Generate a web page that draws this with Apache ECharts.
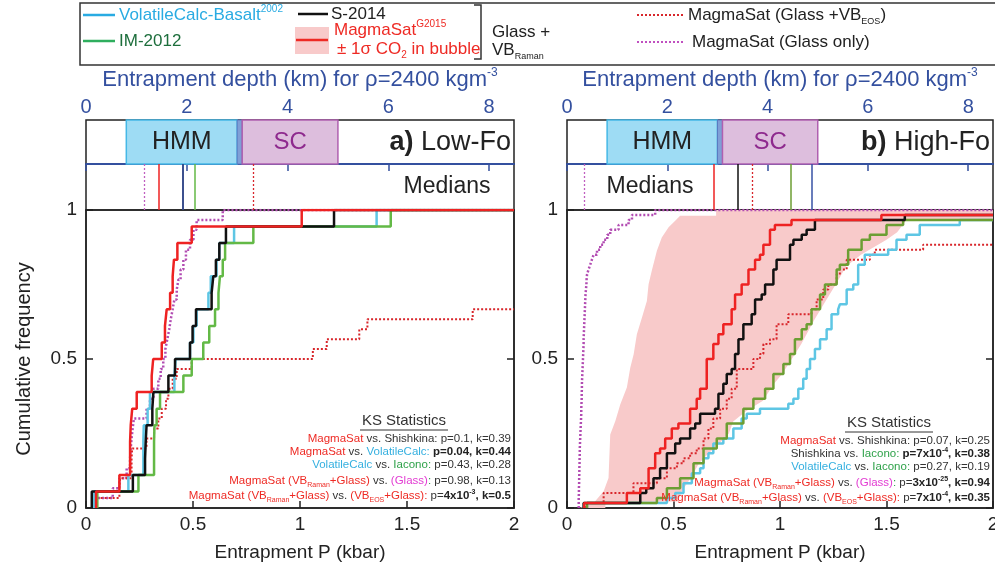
<!DOCTYPE html>
<html>
<head>
<meta charset="utf-8">
<title>Entrapment pressure CDFs</title>
<script src="https://cdn.jsdelivr.net/npm/echarts@6/dist/echarts.min.js"></script>
<style>
html, body { margin: 0; padding: 0; background: #fff; }
#main { width: 995px; height: 574px; }
</style>
</head>
<body>
<div id="main"></div>
<script>
var myChart = echarts.init(document.getElementById('main'));

var FONT = 'Liberation Sans, Arial, sans-serif';
var NAVY = '#34509f';
// pressure axis max (kbar) and the matching depth for rho = 2400 kg/m3
var P_MAX = 2;
var DEPTH_MAX = P_MAX * 1e8 / (2400 * 9.81) / 1000;

// ---- a) Low-Fo : sorted entrapment pressures (kbar) ----
var nLowFo = 18;      // glass + VB_Raman set
var nLowFoAll = 30;   // VB_EOS and glass-only sets (rest plot above 2 kbar)
var aVolatileCalc = [0.037, 0.198, 0.268, 0.268, 0.270, 0.288, 0.299, 0.413, 0.419, 0.486, 0.502, 0.517, 0.572, 0.583, 0.610, 0.623, 0.692, 1.358];
var aIacono = [0.053, 0.245, 0.318, 0.318, 0.320, 0.330, 0.346, 0.455, 0.494, 0.548, 0.576, 0.603, 0.619, 0.626, 0.639, 0.650, 0.782, 1.424];
var aShishkina = [0.027, 0.219, 0.276, 0.279, 0.283, 0.310, 0.315, 0.385, 0.416, 0.486, 0.498, 0.514, 0.587, 0.595, 0.607, 0.623, 0.654, 1.159];
var aMagmaSat = [0.047, 0.156, 0.206, 0.206, 0.209, 0.216, 0.237, 0.307, 0.314, 0.354, 0.369, 0.377, 0.393, 0.405, 0.411, 0.427, 0.494, 1.008];
var aEos = [0.040, 0.156, 0.159, 0.213, 0.213, 0.216, 0.283, 0.318, 0.338, 0.354, 0.374, 0.385, 0.405, 0.424, 0.494, 1.060, 1.125, 1.277, 1.315, 1.807];
var aGlass = [0.047, 0.125, 0.156, 0.190, 0.206, 0.209, 0.213, 0.218, 0.224, 0.283, 0.299, 0.315, 0.338, 0.349, 0.361, 0.371, 0.380, 0.389, 0.396, 0.405, 0.413, 0.424, 0.432, 0.442, 0.455, 0.467, 0.486, 0.502, 0.517, 0.639];

// ---- b) High-Fo ----
var nHighFo = 60;
var bVolatileCalc = [0.094, 0.469, 0.508, 0.547, 0.547, 0.586, 0.586, 0.625, 0.641, 0.641, 0.664, 0.687, 0.687, 0.734, 0.781, 0.781, 0.820, 0.820, 0.844, 0.906,
  1.039, 1.063, 1.086, 1.086, 1.109, 1.109, 1.125, 1.125, 1.141, 1.141, 1.164, 1.164, 1.188, 1.188, 1.219, 1.219, 1.242, 1.242, 1.242, 1.273,
  1.281, 1.313, 1.313, 1.313, 1.344, 1.367, 1.367, 1.367, 1.367, 1.398, 1.398, 1.508, 1.547, 1.547, 1.594, 1.656, 1.656, 1.844];
var bIacono = [0.094, 0.422, 0.469, 0.469, 0.531, 0.531, 0.594, 0.594, 0.594, 0.641, 0.641, 0.641, 0.703, 0.703, 0.750, 0.750, 0.750, 0.828, 0.828, 0.828,
  0.875, 0.875, 0.930, 0.930, 0.969, 0.969, 0.969, 1.016, 1.016, 1.047, 1.047, 1.070, 1.070, 1.070, 1.102, 1.102, 1.125, 1.148, 1.148, 1.148,
  1.188, 1.188, 1.188, 1.211, 1.211, 1.266, 1.266, 1.266, 1.281, 1.320, 1.320, 1.320, 1.383, 1.383, 1.422, 1.500, 1.500, 1.578];
var bShishkina = [0.078, 0.344, 0.344, 0.372, 0.406, 0.406, 0.437, 0.437, 0.469, 0.469, 0.469, 0.508, 0.508, 0.531, 0.578, 0.578, 0.602, 0.625, 0.625, 0.695,
  0.711, 0.711, 0.711, 0.734, 0.734, 0.750, 0.750, 0.773, 0.789, 0.789, 0.789, 0.805, 0.805, 0.805, 0.828, 0.828, 0.828, 0.867, 0.867, 0.883,
  0.883, 0.883, 0.914, 0.930, 0.930, 0.969, 0.969, 0.969, 0.984, 0.984, 1.047, 1.047, 1.047, 1.063, 1.102, 1.125, 1.164, 1.164, 1.586];
var bMagmaSat = [0.081, 0.281, 0.281, 0.344, 0.383, 0.383, 0.383, 0.383, 0.414, 0.414, 0.414, 0.437, 0.461, 0.461, 0.492, 0.492, 0.523, 0.578, 0.578, 0.578,
  0.609, 0.609, 0.625, 0.625, 0.656, 0.656, 0.656, 0.656, 0.656, 0.656, 0.687, 0.687, 0.687, 0.711, 0.711, 0.734, 0.734, 0.773, 0.773, 0.773,
  0.789, 0.789, 0.789, 0.820, 0.820, 0.852, 0.852, 0.852, 0.883, 0.883, 0.906, 0.922, 0.922, 0.953, 0.953, 0.953, 0.976, 1.054, 1.476];
var bEos = [0.086, 0.172, 0.172, 0.312, 0.312, 0.422, 0.469, 0.469, 0.516, 0.547, 0.578, 0.609, 0.641, 0.641, 0.664, 0.664, 0.687, 0.687, 0.719, 0.719,
  0.750, 0.750, 0.773, 0.773, 0.797, 0.797, 0.797, 0.797, 0.875, 0.875, 0.906, 0.922, 0.922, 0.953, 0.984, 0.984, 0.984, 1.039, 1.039, 1.148,
  1.172, 1.172, 1.203, 1.203, 1.227, 1.266, 1.266, 1.281, 1.313, 1.313, 1.422, 1.445, 1.672];
var bGlass = [0.055, 0.055, 0.056, 0.056, 0.057, 0.057, 0.058, 0.058, 0.059, 0.059, 0.060, 0.060, 0.061, 0.062, 0.063, 0.064, 0.065, 0.066, 0.067, 0.067,
  0.068, 0.069, 0.069, 0.070, 0.070, 0.071, 0.072, 0.073, 0.074, 0.075, 0.076, 0.077, 0.078, 0.078, 0.079, 0.080, 0.081, 0.082, 0.083, 0.084,
  0.085, 0.086, 0.087, 0.089, 0.091, 0.092, 0.094, 0.101, 0.109, 0.117, 0.125, 0.141, 0.156, 0.172, 0.189, 0.203, 0.242, 0.289, 0.305, 0.414];
// MagmaSat +/- 1 sigma CO2 in bubble envelope (kbar, cumulative frequency)
var bBandLoP = [0.06, 0.125, 0.172, 0.195, 0.203, 0.227, 0.25, 0.281, 0.297, 0.313, 0.328, 0.352, 0.375, 0.383, 0.398, 0.422, 0.445, 0.477, 0.508, 0.531, 0.70, 0.70, 2.0];
var bBandLoF = [0, 0.017, 0.056, 0.101, 0.247, 0.292, 0.347, 0.404, 0.471, 0.516, 0.583, 0.639, 0.695, 0.751, 0.796, 0.863, 0.908, 0.942, 0.964, 0.981, 0.981, 1.0, 1.0];
var bBandHiP = [0.05, 0.18, 0.18, 0.52, 0.54, 0.58, 0.62, 0.66, 0.71, 0.76, 0.78, 0.84, 0.92, 0.97, 1.01, 1.06, 1.10, 1.16, 1.21, 1.27, 1.31, 1.38, 1.44, 1.50, 1.55, 1.59, 2.0];
var bBandHiF = [0, 0, 0.02, 0.022, 0.057, 0.10, 0.15, 0.18, 0.213, 0.25, 0.29, 0.325, 0.36, 0.415, 0.45, 0.505, 0.55, 0.63, 0.69, 0.76, 0.81, 0.85, 0.875, 0.90, 0.925, 0.963, 0.963];

// medians (kbar) shown in the strip above each panel
var medianKeys = ['glass', 'magmasat', 'shishkina', 'volatilecalc', 'iacono', 'eos'];
var aMedians = [0.271, 0.336, 0.453, 0.453, 0.514, 0.78];
var bMedians = [0.08, 0.69, 0.80, 1.15, 1.05, 0.87];

// magma storage zones (km)
var zoneNames = ['HMM', '', 'SC'];
var zoneFrom = [0.8, 3.0, 3.1];
var zoneTo = [3.0, 3.1, 5.0];

var zoneStyle = [
    { color: '#9edcf4', borderColor: '#45b8e6', borderWidth: 1.5, text: '#222' },
    { color: '#7f9fd6', borderColor: '#5a78c0', borderWidth: 1, text: '#222' },
    { color: '#ddbedd', borderColor: '#b060b0', borderWidth: 1.5, text: '#8e2a8e' }
];
var curveStyle = {
    volatilecalc: { color: '#5ec6e4', width: 2.5, type: 'solid' },
    iacono: { color: '#63b946', width: 2.5, type: 'solid' },
    shishkina: { color: '#111111', width: 2.5, type: 'solid' },
    magmasat: { color: '#ee2222', width: 2.5, type: 'solid' },
    eos: { color: '#d8262b', width: 2, type: [2, 2] },
    glass: { color: '#b24cb2', width: 2.5, type: [2, 2] }
};
var medianStyle = {
    glass: { color: '#c060c0', width: 1.3, type: [2, 2] },
    magmasat: { color: '#ee2222', width: 1.5, type: 'solid' },
    shishkina: { color: '#111111', width: 1.5, type: 'solid' },
    volatilecalc: { color: '#3752a5', width: 1.5, type: 'solid' },
    iacono: { color: '#5cc03c', width: 1.5, type: 'solid' },
    eos: { color: '#d8262b', width: 1.3, type: [2, 2] }
};

// empirical CDF as step vertices
function cdfPoints(samples, n) {
    var pts = [[samples[0], 0]];
    for (var i = 0; i < samples.length; i++) {
        pts.push([samples[i], (i + 1) / n]);
    }
    pts.push([P_MAX, samples.length / n]);
    return pts;
}

var panels = [
    {
        left: 86, width: 428, label: 'a)', labelText: 'Low-Fo', labelX: 511, mediansX: 447,
        medians: aMedians, green: '#63b946', yName: 'Cumulative frequency',
        curves: [['glass', aGlass, nLowFoAll], ['eos', aEos, nLowFoAll], ['volatilecalc', aVolatileCalc, nLowFo],
            ['iacono', aIacono, nLowFo], ['shishkina', aShishkina, nLowFo], ['magmasat', aMagmaSat, nLowFo]]
    },
    {
        left: 567, width: 426, label: 'b)', labelText: 'High-Fo', labelX: 990, mediansX: 650,
        medians: bMedians, green: '#6c9e33', yName: '', band: true,
        curves: [['glass', bGlass, nHighFo], ['eos', bEos, nHighFo], ['volatilecalc', bVolatileCalc, nHighFo],
            ['iacono', bIacono, nHighFo], ['shishkina', bShishkina, nHighFo], ['magmasat', bMagmaSat, nHighFo]]
    }
];

var grids = [], xAxes = [], yAxes = [], series = [];

panels.forEach(function (pn, p) {
    var g = p * 3;
    var tops = [120, 164, 210], heights = [44, 46, 298];
    for (var i = 0; i < 3; i++) {
        grids.push({
            left: pn.left, width: pn.width, top: tops[i], height: heights[i],
            show: true, borderColor: '#222', borderWidth: 1.5, backgroundColor: 'transparent',
            containLabel: false, outerBoundsMode: 'none'
        });
    }
    // depth axis on top of the zone strip
    xAxes.push({
        gridIndex: g, type: 'value', position: 'top', min: 0, max: DEPTH_MAX, interval: 2,
        axisLine: { show: true, lineStyle: { color: NAVY, width: 2 } },
        axisTick: { show: true, inside: true, length: 7, lineStyle: { color: NAVY, width: 1.5 } },
        axisLabel: {
            color: NAVY, fontSize: 20, fontFamily: FONT, margin: 3, showMaxLabel: false,
            formatter: function (v) { return v % 2 === 0 ? String(v) : ''; }
        },
        splitLine: { show: false },
        name: 'Entrapment depth (km) for ρ=2400 kgm{s|-3}',
        nameLocation: 'middle', nameGap: 27,
        nameTextStyle: {
            color: NAVY, fontSize: 22, fontFamily: FONT, lineHeight: 26,
            rich: { s: { color: NAVY, fontSize: 12, fontFamily: FONT, verticalAlign: 'top', lineHeight: 14 } }
        }
    });
    xAxes.push({ gridIndex: g + 1, type: 'value', min: 0, max: P_MAX, show: false });
    xAxes.push({
        gridIndex: g + 2, type: 'value', min: 0, max: P_MAX, interval: 0.5,
        axisLine: { show: true, onZero: false, lineStyle: { color: '#222', width: 1.5 } },
        axisTick: { show: true, inside: true, length: 7, lineStyle: { color: '#222', width: 1.5 } },
        axisLabel: { color: '#222', fontSize: 19, fontFamily: FONT, margin: 7 },
        splitLine: { show: false },
        name: 'Entrapment P (kbar)', nameLocation: 'middle', nameGap: 35,
        nameTextStyle: { color: '#222', fontSize: 19, fontFamily: FONT }
    });

    yAxes.push({ gridIndex: g, type: 'value', min: 0, max: 1, show: false });
    yAxes.push({ gridIndex: g + 1, type: 'value', min: 0, max: 1, show: false });
    yAxes.push({
        gridIndex: g + 2, type: 'value', position: 'left', min: 0, max: 1, interval: 0.5,
        axisLine: { show: true, onZero: false, lineStyle: { color: '#222', width: 1.5 } },
        axisTick: { show: true, inside: true, length: 7, lineStyle: { color: '#222', width: 1.5 } },
        axisLabel: { color: '#222', fontSize: 19, fontFamily: FONT, margin: 9 },
        splitLine: { show: false },
        name: pn.yName, nameLocation: 'middle', nameGap: 52,
        nameTextStyle: { color: '#222', fontSize: 20, fontFamily: FONT }
    });
    yAxes.push({
        gridIndex: g + 2, type: 'value', position: 'right', min: 0, max: 1, interval: 0.5,
        axisLine: { show: true, onZero: false, lineStyle: { color: '#222', width: 1.5 } },
        axisTick: { show: true, inside: true, length: 7, lineStyle: { color: '#222', width: 1.5 } },
        axisLabel: { show: false },
        splitLine: { show: false }
    });

    // HMM / SC zones
    series.push({
        type: 'line', xAxisIndex: g, yAxisIndex: p * 4, data: [], silent: true,
        markArea: {
            silent: true,
            data: zoneNames.map(function (nm, i) {
                var st = zoneStyle[i];
                return [{
                    name: nm, xAxis: zoneFrom[i],
                    itemStyle: { color: st.color, borderColor: st.borderColor, borderWidth: st.borderWidth },
                    label: { show: nm !== '', position: 'inside', color: st.text, fontSize: nm === 'SC' ? 24 : 25, fontFamily: FONT }
                }, { xAxis: zoneTo[i] }];
            })
        }
    });
    // medians strip
    series.push({
        type: 'line', xAxisIndex: g + 1, yAxisIndex: p * 4 + 1, data: [], silent: true,
        markLine: {
            silent: true, symbol: ['none', 'none'], label: { show: false },
            data: medianKeys.map(function (key, i) {
                var st = medianStyle[key];
                return { xAxis: pn.medians[i], lineStyle: { color: key === 'iacono' ? pn.green : st.color, width: st.width, type: st.type } };
            })
        }
    });
    // +/- 1 sigma envelope
    if (pn.band) {
        series.push({
            type: 'custom', xAxisIndex: g + 2, yAxisIndex: p * 4 + 2, silent: true, z: 1,
            data: [[0, 0]],
            renderItem: function (params, api) {
                var pts = [];
                for (var i = 0; i < bBandLoP.length; i++) pts.push(api.coord([bBandLoP[i], bBandLoF[i]]));
                for (var j = bBandHiP.length - 1; j >= 0; j--) pts.push(api.coord([bBandHiP[j], bBandHiF[j]]));
                return { type: 'polygon', shape: { points: pts }, style: { fill: '#f8caca', stroke: 'none' } };
            }
        });
    }
    pn.curves.forEach(function (c, k) {
        var st = curveStyle[c[0]];
        series.push({
            type: 'line', name: c[0], xAxisIndex: g + 2, yAxisIndex: p * 4 + 2,
            step: 'end', symbol: 'none', showSymbol: false, z: 3 + k,
            data: cdfPoints(c[1], c[2]),
            lineStyle: { color: c[0] === 'iacono' ? pn.green : st.color, width: st.width, type: st.type }
        });
    });
});

// ---- text helpers ----
function tok(color, size, more) {
    var s = { fill: color, color: color, fontSize: size, fontFamily: FONT, lineHeight: Math.round(size * 1.3), verticalAlign: 'middle' };
    for (var k in more) s[k] = more[k];
    return s;
}
function txt(x, y, text, size, color, align, rich) {
    return {
        type: 'text', x: x, y: y, silent: true, z: 50,
        style: {
            text: text, fontSize: size, fontFamily: FONT, fill: color,
            textAlign: align, align: align, textVerticalAlign: 'middle', verticalAlign: 'middle', rich: rich
        }
    };
}
function hline(x1, x2, y, color, width, dash) {
    return {
        type: 'line', silent: true, z: 50, shape: { x1: x1, y1: y, x2: x2, y2: y },
        style: { stroke: color, lineWidth: width, lineDash: dash || null }
    };
}

var RED = '#ee2a24';
var ksRich = {
    r: tok(RED, 11.5), c: tok('#35b0e0', 11.5), g: tok('#2fa24a', 11.5), m: tok('#e23ad2', 11.5),
    k: tok('#333', 11.5), b: tok('#222', 11.5, { fontWeight: 'bold' }),
    rs: tok(RED, 7, { verticalAlign: 'bottom', lineHeight: 8 }),
    bs: tok('#222', 7, { fontWeight: 'bold', verticalAlign: 'top', lineHeight: 8 })
};
var ksA = [
    '{r|MagmaSat}{k| vs. Shishkina: p=0.1, k=0.39}',
    '{r|MagmaSat}{k| vs. }{c|VolatileCalc:}{k| }{b|p=0.04, k=0.44}',
    '{c|VolatileCalc}{k| vs. }{g|Iacono:}{k| p=0.43, k=0.28}',
    '{r|MagmaSat (VB}{rs|Raman}{r|+Glass)}{k| vs. }{m|(Glass)}{g|:}{k| p=0.98, k=0.13}',
    '{r|MagmaSat (VB}{rs|Raman}{r|+Glass)}{k| vs. }{r|(VB}{rs|EOS}{r|+Glass):}{k| p=}{b|4x10}{bs|-3}{b|, k=0.5}'
];
var ksB = [
    '{r|MagmaSat}{k| vs. Shishkina: p=0.07, k=0.25}',
    '{k|Shishkina vs. }{g|Iacono:}{k| }{b|p=7x10}{bs|-4}{b|, k=0.38}',
    '{c|VolatileCalc}{k| vs. }{g|Iacono:}{k| p=0.27, k=0.19}',
    '{r|MagmaSat (VB}{rs|Raman}{r|+Glass)}{k| vs. }{m|(Glass)}{g|:}{k| p=}{b|3x10}{bs|-25}{b|, k=0.94}',
    '{r|MagmaSat (VB}{rs|Raman}{r|+Glass)}{k| vs. }{r|(VB}{rs|EOS}{r|+Glass):}{k| p=}{b|7x10}{bs|-4}{b|, k=0.35}'
];
var ksY = [439, 452, 465, 481, 496];

var graphics = [];
// legend box
graphics.push({ type: 'rect', silent: true, shape: { x: 80, y: 3, width: 930, height: 62 }, style: { fill: 'none', stroke: '#333', lineWidth: 1.5 } });
var legRich = {
    a: tok('#29abe2', 17), s: tok('#29abe2', 10, { verticalAlign: 'top', lineHeight: 12 }),
    r: tok(RED, 17), rs: tok(RED, 10, { verticalAlign: 'top', lineHeight: 12 }), rb: tok(RED, 10, { verticalAlign: 'bottom', lineHeight: 12 }),
    k: tok('#222', 17), kb: tok('#222', 9, { verticalAlign: 'bottom', lineHeight: 11 }),
    g: tok('#1d6e3c', 17)
};
graphics.push(hline(83, 115, 15, '#29abe2', 2.5));
graphics.push(txt(119, 15, '{a|VolatileCalc-Basalt}{s|2002}', 17, '#29abe2', 'left', legRich));
graphics.push(hline(83, 115, 41, '#2fae5e', 2.5));
graphics.push(txt(119, 41, '{g|IM-2012}', 17, '#1d6e3c', 'left', legRich));
graphics.push(hline(298, 328, 14, '#111', 2.5));
graphics.push(txt(331, 14, '{k|S-2014}', 17, '#222', 'left', legRich));
graphics.push({ type: 'rect', silent: true, shape: { x: 295, y: 27, width: 34, height: 27 }, style: { fill: '#f8caca' } });
graphics.push(hline(296, 328, 40, RED, 2.5));
graphics.push(txt(334, 30, '{r|MagmaSat}{rs|G2015}', 17, RED, 'left', legRich));
graphics.push(txt(337, 49, '{r|± 1σ CO}{rb|2}{r| in bubble}', 17, RED, 'left', legRich));
graphics.push({
    type: 'polyline', silent: true, shape: { points: [[474, 5], [481, 5], [481, 59], [474, 59]] },
    style: { fill: 'none', stroke: '#333', lineWidth: 1.5 }
});
graphics.push(txt(492, 32, '{k|Glass +}', 17, '#222', 'left', legRich));
graphics.push(txt(492, 50, '{k|VB}{kb|Raman}', 17, '#222', 'left', legRich));
graphics.push(hline(637, 683, 15, '#d8262b', 2, [2, 2]));
graphics.push(txt(688, 15, '{k|MagmaSat (Glass +VB}{kb|EOS}{k|)}', 17, '#222', 'left', legRich));
graphics.push(hline(637, 683, 42, '#c050c0', 2, [2, 2]));
graphics.push(txt(692, 42, '{k|MagmaSat (Glass only)}', 17, '#222', 'left', legRich));

// panel labels, medians captions and KS statistics
var panelRich = { b: tok('#222', 27, { fontWeight: 'bold' }), n: tok('#222', 27) };
panels.forEach(function (pn, p) {
    var right = pn.left + pn.width;
    graphics.push(txt(pn.labelX, 143, '{b|' + pn.label + '} {n|' + pn.labelText + '}', 27, '#222', 'right', panelRich));
    graphics.push(txt(pn.mediansX, 187, 'Medians', 23, '#222', 'center'));
    var cx = p === 0 ? 404 : 889;
    var ty = p === 0 ? 421 : 423;
    graphics.push(txt(cx, ty, 'KS Statistics', 15, '#333', 'center'));
    graphics.push(hline(cx - 44, cx + 44, ty + 9, '#333', 1));
    var lines = p === 0 ? ksA : ksB;
    lines.forEach(function (s, i) {
        graphics.push(txt(right - 3, ksY[i] + p * 2, s, 11.5, '#333', 'right', ksRich));
    });
});

var option = {
    animation: false,
    textStyle: { fontFamily: FONT },
    grid: grids,
    xAxis: xAxes,
    yAxis: yAxes,
    series: series,
    graphic: { elements: graphics }
};
myChart.setOption(option);
</script>
</body>
</html>
